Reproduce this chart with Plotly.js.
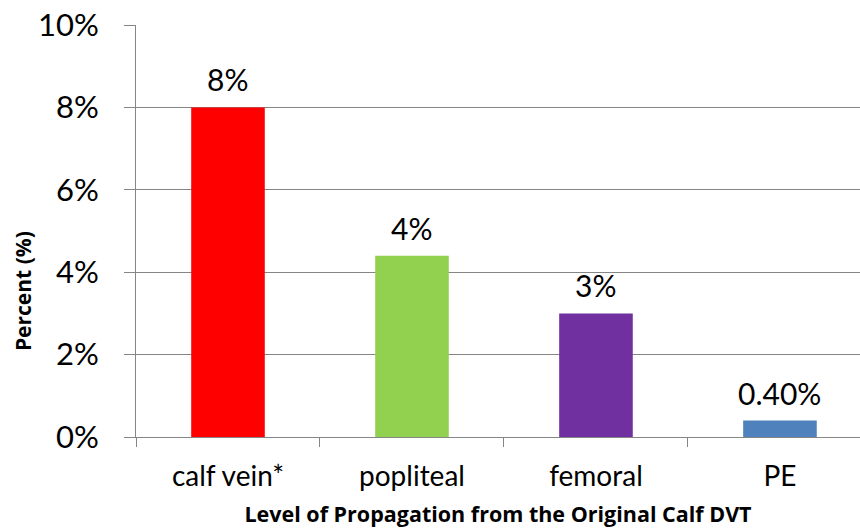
<!DOCTYPE html>
<html>
<head>
<meta charset="utf-8">
<script src="https://cdn.plot.ly/plotly-3.0.1.min.js"></script>
<style>html,body{margin:0;padding:0;background:#fff;}#chart{width:860px;height:531px;}</style>
</head>
<body>
<div id="chart"></div>
<script>
var categories = ["calf vein*", "popliteal", "femoral", "PE"];
var values = [8, 4.4, 3, 0.4];
var valueLabels = ["8%", "4%", "3%", "0.40%"];
var barColors = ["#FF0000", "#92D050", "#7030A0", "#4F81BD"];
var yTickVals = [0, 2, 4, 6, 8, 10];
var yTickText = ["0%", "2%", "4%", "6%", "8%", "10%"];

var FONT = "Lato, 'Open Sans', sans-serif";
var BOLDFONT = "'Open Sans', sans-serif";

var trace = {
  type: "bar",
  x: categories,
  y: values,
  marker: {color: barColors},
  width: 0.4,
  hoverinfo: "skip"
};

var annotations = categories.map(function (c, i) {
  return {
    x: c, y: values[i], xref: "x", yref: "y",
    text: valueLabels[i], showarrow: false,
    yanchor: "bottom", yshift: 8,
    font: {family: FONT, size: 30, color: "#000"}
  };
});
annotations.push({
  xref: "paper", yref: "paper", x: -0.157, y: 0.355,
  xanchor: "center", yanchor: "middle",
  text: "<b>Percent (%)</b>", textangle: -90, showarrow: false,
  font: {family: BOLDFONT, size: 21, color: "#000"}
});

var layout = {
  width: 860, height: 531,
  margin: {l: 136, r: 0, t: 25, b: 94, pad: 0},
  paper_bgcolor: "#fff", plot_bgcolor: "#fff",
  showlegend: false,
  xaxis: {
    type: "category",
    range: [-0.5, 3.435],
    showgrid: false,
    showline: true, linecolor: "#868686", linewidth: 1,
    ticks: "outside", tickson: "boundaries", ticklen: 9, tickcolor: "#868686",
    tickfont: {family: FONT, size: 28, color: "#000"},
    ticklabelstandoff: 14,
    title: {text: "<b>Level of Propagation from the Original Calf DVT</b>",
            font: {family: BOLDFONT, size: 21.5, color: "#000"}, standoff: 16},
    fixedrange: true
  },
  yaxis: {
    range: [0, 10],
    tickvals: yTickVals, ticktext: yTickText,
    showgrid: true, gridcolor: "#868686", gridwidth: 1,
    showline: true, linecolor: "#868686", linewidth: 1,
    zeroline: false,
    ticks: "outside", ticklen: 11, tickcolor: "#868686",
    tickfont: {family: FONT, size: 31, color: "#000"},
    ticklabelstandoff: 19,
    fixedrange: true
  },
  annotations: annotations
};

Plotly.newPlot("chart", [trace], layout, {displayModeBar: false, staticPlot: true});
</script>
</body>
</html>
